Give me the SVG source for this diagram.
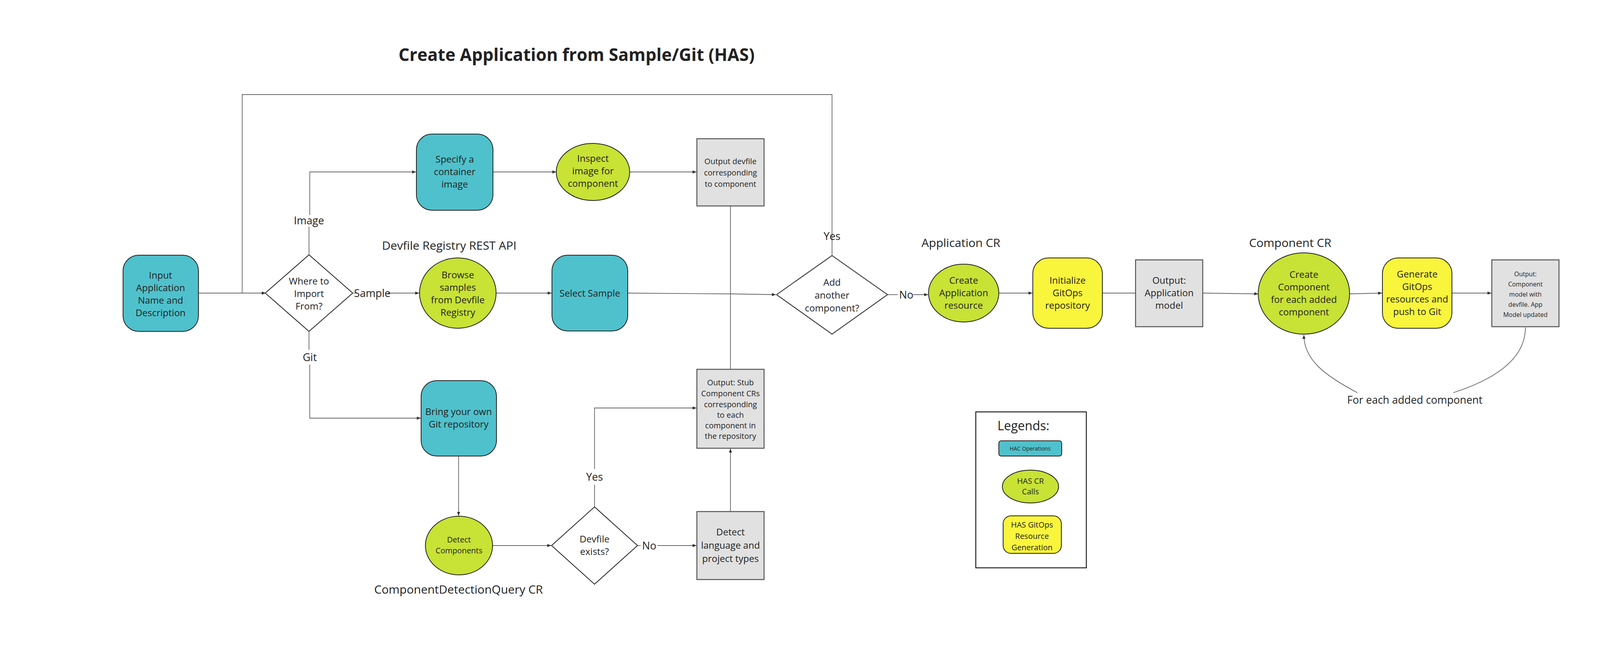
<svg xmlns="http://www.w3.org/2000/svg" width="4262" height="1694" viewBox="0 0 4262 1694">
<defs>
<marker id="ah" viewBox="0 0 10 10" refX="10" refY="5" markerWidth="10" markerHeight="10" markerUnits="userSpaceOnUse" orient="auto"><path d="M0,1 L10,5 L0,9 z" fill="#333"/></marker>
<style>
text{font-family:"Open Sans","Noto Sans",sans-serif;fill:#222;text-anchor:middle}
.t{font-size:24px}
.s{font-size:20px}
.xs{font-size:16px}
.lbl{font-size:27px}
.cap{font-size:30px}
.hac{fill:#4fc1cc;stroke:#222;stroke-width:2}
.has{fill:#c8e235;stroke:#222;stroke-width:2}
.git{fill:#f9f53c;stroke:#222;stroke-width:2}
.out{fill:#e1e1e1;stroke:#555;stroke-width:2.5}
.dia{fill:#fff;stroke:#222;stroke-width:2}
.c{fill:none;stroke:#666;stroke-width:1.8}
.a{marker-end:url(#ah)}
</style>
</defs>
<rect width="4262" height="1694" fill="#fff"/>
<text x="1476" y="156" style="font-size:44px;font-weight:bold">Create Application from Sample/Git (HAS)</text>
<text x="1150" y="639" class="cap">Devfile Registry REST API</text>
<text x="2460" y="632" class="cap">Application CR</text>
<text x="3303" y="632" class="cap">Component CR</text>
<text x="1174" y="1519" class="cap">ComponentDetectionQuery CR</text>

<g id="connectors">
<path class="c a" d="M508,750 H680"/>
<path class="c a" d="M2130,654 V242 H620 V750 H680"/>
<path class="c" d="M791,652 V580"/>
<path class="c a" d="M793,550 V440 H1065"/>
<path class="c a" d="M1262,440 H1424"/>
<path class="c a" d="M1612,440 H1783"/>
<path class="c" d="M905,750 H915"/>
<path class="c a" d="M992,750 H1073"/>
<path class="c a" d="M1271,750 H1412"/>
<path class="c a" d="M1607,750 L1870,752 L1986,754"/>
<path class="c" d="M1870,527 V945"/>
<path class="c" d="M791,848 V895"/>
<path class="c a" d="M793,933 V1070 H1077"/>
<path class="c a" d="M1174,1167 V1320"/>
<path class="c a" d="M1260,1396 H1411"/>
<path class="c" d="M1522,1297 V1240"/>
<path class="c a" d="M1522,1200 V1044 H1783"/>
<path class="c" d="M1632,1396 H1640"/>
<path class="c a" d="M1683,1396 H1783"/>
<path class="c a" d="M1870,1309 V1148"/>
<path class="c" d="M2272,754 H2298"/>
<path class="c a" d="M2338,754 H2376"/>
<path class="c a" d="M2557,750 H2643"/>
<path class="c a" d="M2907,750 H2650"/>
<path class="c a" d="M3079,750 L3221,752"/>
<path class="c a" d="M3455,752 L3538,750"/>
<path class="c a" d="M3717,750 H3818"/>
<path class="c" d="M3905,838 C3905,900 3860,960 3720,1005"/>
<path class="c a" d="M3475,1005 C3390,960 3338,920 3338,857"/>
<text x="2130" y="614" class="lbl">Yes</text>
<text x="2320" y="764" class="lbl">No</text>
<text x="791" y="574" class="lbl">Image</text>
<text x="953" y="760" class="lbl">Sample</text>
<text x="793" y="924" class="lbl">Git</text>
<text x="1522" y="1230" class="lbl">Yes</text>
<text x="1662" y="1406" class="lbl">No</text>
<text x="3622" y="1033" class="lbl">For each added component</text>
</g>

<g id="input"><rect x="315" y="653" width="193" height="195" rx="40" class="hac"/>
<text class="t" x="411" y="713">Input</text><text class="t" x="411" y="745">Application</text><text class="t" x="411" y="777">Name and</text><text class="t" x="411" y="809">Description</text></g>
<g id="where"><path d="M791,652 L903,750 L791,848 L679,750 Z" class="dia"/>
<text class="t" x="791" y="728">Where to</text><text class="t" x="791" y="760">Import</text><text class="t" x="791" y="792">From?</text></g>
<g id="specify"><rect x="1066" y="343" width="196" height="195" rx="40" class="hac"/>
<text class="t" x="1164" y="416">Specify a</text><text class="t" x="1164" y="448">container</text><text class="t" x="1164" y="480">image</text></g>
<g id="inspect"><ellipse cx="1518" cy="440" rx="94" ry="73" class="has"/>
<text class="t" x="1518" y="414">Inspect</text><text class="t" x="1518" y="446">image for</text><text class="t" x="1518" y="478">component</text></g>
<g id="outdevfile"><rect x="1784" y="355" width="172" height="172" class="out"/>
<text class="s" x="1870" y="420">Output devfile</text><text class="s" x="1870" y="449">corresponding</text><text class="s" x="1870" y="478">to component</text></g>
<g id="browse"><ellipse cx="1172" cy="750" rx="98" ry="90" class="has"/>
<text class="t" x="1172" y="712">Browse</text><text class="t" x="1172" y="744">samples</text><text class="t" x="1172" y="776">from Devfile</text><text class="t" x="1172" y="808">Registry</text></g>
<g id="select"><rect x="1413" y="653" width="194" height="194" rx="40" class="hac"/>
<text class="t" x="1510" y="759">Select Sample</text></g>
<g id="byo"><rect x="1078" y="974" width="193" height="193" rx="40" class="hac"/>
<text class="t" x="1174" y="1062">Bring your own</text><text class="t" x="1174" y="1094">Git repository</text></g>
<g id="stub"><rect x="1784" y="945" width="172" height="202" class="out"/>
<text class="s" x="1870" y="986">Output: Stub</text><text class="s" x="1870" y="1014">Component CRs</text><text class="s" x="1870" y="1042">corresponding</text><text class="s" x="1870" y="1069">to each</text><text class="s" x="1870" y="1096">component in</text><text class="s" x="1870" y="1123">the repository</text></g>
<g id="detectcomp"><ellipse cx="1175" cy="1396" rx="86" ry="75" class="has"/>
<text class="s" x="1175" y="1388">Detect</text><text class="s" x="1175" y="1416">Components</text></g>
<g id="devexists"><path d="M1522,1297 L1632,1396 L1522,1495 L1412,1396 Z" class="dia"/>
<text class="t" x="1522" y="1388">Devfile</text><text class="t" x="1522" y="1420">exists?</text></g>
<g id="detectlang"><rect x="1784" y="1309" width="172" height="174" class="out"/>
<text class="t" x="1870" y="1370">Detect</text><text class="t" x="1870" y="1404">language and</text><text class="t" x="1870" y="1438">project types</text></g>
<g id="addanother"><path d="M2130,654 L2272,754 L2130,855 L1988,754 Z" class="dia"/>
<text class="t" x="2130" y="731">Add</text><text class="t" x="2130" y="764">another</text><text class="t" x="2130" y="797">component?</text></g>
<g id="createapp"><ellipse cx="2467" cy="750" rx="90" ry="74" class="has"/>
<text class="t" x="2467" y="726">Create</text><text class="t" x="2467" y="758">Application</text><text class="t" x="2467" y="790">resource</text></g>
<g id="initgitops"><rect x="2644" y="660" width="178" height="180" rx="40" class="git"/>
<text class="t" x="2733" y="726">Initialize</text><text class="t" x="2733" y="758">GitOps</text><text class="t" x="2733" y="790">repository</text></g>
<g id="outapp"><rect x="2907" y="665" width="172" height="171" class="out"/>
<text class="t" x="2993" y="726">Output:</text><text class="t" x="2993" y="758">Application</text><text class="t" x="2993" y="790">model</text></g>
<g id="createcomp"><ellipse cx="3338" cy="751" rx="117" ry="104" class="has"/>
<text class="t" x="3338" y="711">Create</text><text class="t" x="3338" y="743">Component</text><text class="t" x="3338" y="775">for each added</text><text class="t" x="3338" y="807">component</text></g>
<g id="gengitops"><rect x="3539" y="660" width="178" height="180" rx="40" class="git"/>
<text class="t" x="3628" y="710">Generate</text><text class="t" x="3628" y="742">GitOps</text><text class="t" x="3628" y="774">resources and</text><text class="t" x="3628" y="806">push to Git</text></g>
<g id="outcomp"><rect x="3819" y="665" width="172" height="171" class="out"/>
<text class="xs" x="3905" y="707">Output:</text><text class="xs" x="3905" y="733">Component</text><text class="xs" x="3905" y="759">model with</text><text class="xs" x="3905" y="785">devfile. App</text><text class="xs" x="3905" y="811">Model updated</text></g>
<g id="legend"><rect x="2498" y="1054" width="283" height="399" fill="#fff" stroke="#222" stroke-width="2.5"/>
<text x="2620" y="1101" style="font-size:32px">Legends:</text>
<rect x="2557" y="1128" width="161" height="39" rx="6" class="hac"/><text class="xs" x="2637" y="1153" style="font-size:14px">HAC Operations</text>
<ellipse cx="2638" cy="1245" rx="72" ry="42" class="has"/><text class="s" x="2638" y="1238">HAS CR</text><text class="s" x="2638" y="1265">Calls</text>
<rect x="2568" y="1320" width="149" height="96" rx="20" class="git"/><text class="s" x="2642" y="1350">HAS GitOps</text><text class="s" x="2642" y="1379">Resource</text><text class="s" x="2642" y="1408">Generation</text></g>
</svg>
